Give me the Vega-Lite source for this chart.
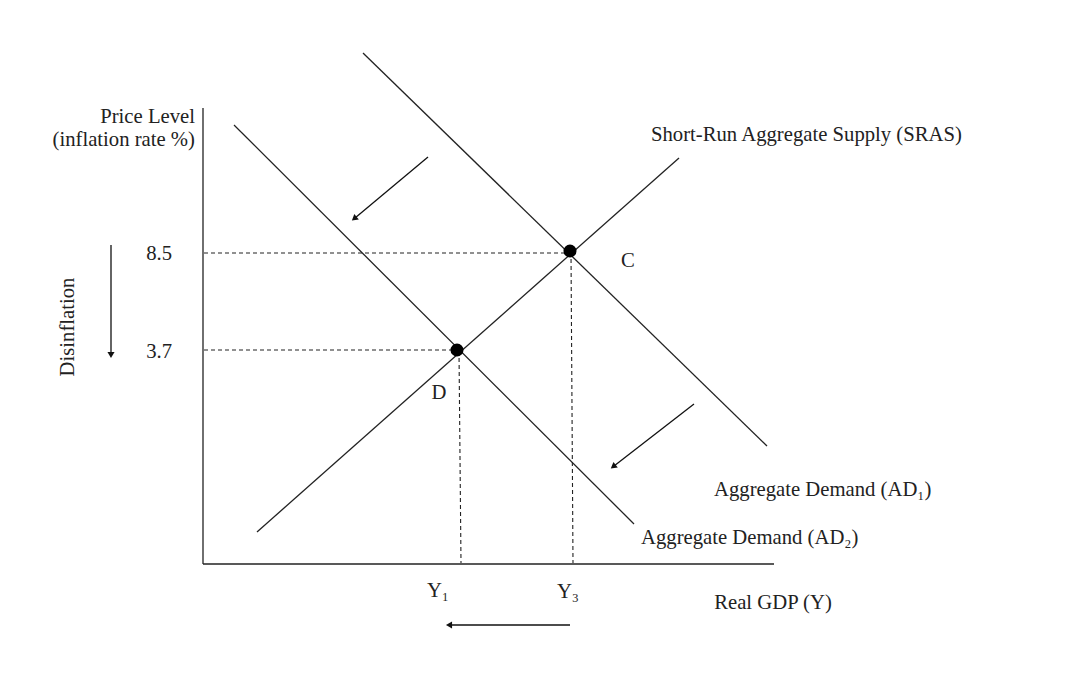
{
  "$schema": "https://vega.github.io/schema/vega-lite/v6.json",
  "width": 1084,
  "height": 674,
  "autosize": {"type": "fit", "contains": "padding"},
  "padding": 0,
  "background": "white",
  "config": {"view": {"stroke": null}},
  "datasets": {
    "solid": [
      {"name": "y-axis", "x": 203, "y": 108, "x2": 203, "y2": 564},
      {"name": "x-axis", "x": 203, "y": 564, "x2": 774, "y2": 564},
      {"name": "AD1", "x": 363, "y": 53, "x2": 767, "y2": 446},
      {"name": "AD2", "x": 234, "y": 125, "x2": 634, "y2": 524},
      {"name": "SRAS", "x": 257, "y": 532, "x2": 679, "y2": 158}
    ],
    "dashed": [
      {"name": "8.5", "x": 204, "y": 253, "x2": 570, "y2": 253},
      {"name": "3.7", "x": 204, "y": 350, "x2": 457, "y2": 350},
      {"name": "Y3", "x": 571, "y": 252, "x2": 573, "y2": 563},
      {"name": "Y1", "x": 459, "y": 351, "x2": 461, "y2": 563}
    ],
    "arrows": [
      {"name": "AD shift 1", "x": 428, "y": 157, "x2": 355, "y2": 218},
      {"name": "AD shift 2", "x": 694, "y": 404, "x2": 614, "y2": 466},
      {"name": "Disinflation", "x": 111, "y": 245, "x2": 111, "y2": 354},
      {"name": "Output fall", "x": 570, "y": 625, "x2": 450, "y2": 625}
    ],
    "points": [
      {"name": "C", "x": 570, "y": 251},
      {"name": "D", "x": 457, "y": 350}
    ],
    "labels": [
      {"text": "Price Level", "x": 195, "y": 117, "anchor": "right", "angle": 0},
      {"text": "(inflation rate %)", "x": 195, "y": 140, "anchor": "right", "angle": 0},
      {"text": "8.5", "x": 172, "y": 254, "anchor": "right", "angle": 0},
      {"text": "3.7", "x": 172, "y": 352, "anchor": "right", "angle": 0},
      {"text": "Disinflation", "x": 68, "y": 327, "anchor": "center", "angle": 270},
      {"text": "D", "x": 439, "y": 393, "anchor": "center", "angle": 0},
      {"text": "C", "x": 628, "y": 261, "anchor": "center", "angle": 0},
      {"text": "Y₁", "x": 438, "y": 591, "anchor": "center", "angle": 0},
      {"text": "Y₃", "x": 568, "y": 592, "anchor": "center", "angle": 0},
      {"text": "Real GDP (Y)", "x": 773, "y": 603, "anchor": "center", "angle": 0},
      {"text": "Short-Run Aggregate Supply (SRAS)", "x": 651, "y": 135, "anchor": "left", "angle": 0},
      {"text": "Aggregate Demand (AD₁)", "x": 714, "y": 490, "anchor": "left", "angle": 0},
      {"text": "Aggregate Demand (AD₂)", "x": 641, "y": 538, "anchor": "left", "angle": 0}
    ]
  },
  "layer": [
    {
      "data": {"name": "solid"},
      "mark": {"type": "rule", "color": "#222", "strokeWidth": 1.3},
      "encoding": {
        "x": {"field": "x", "type": "quantitative", "scale": {"domain": [0, 1084], "nice": false, "zero": false}, "axis": null},
        "y": {"field": "y", "type": "quantitative", "scale": {"domain": [0, 674], "nice": false, "zero": false, "reverse": true}, "axis": null},
        "x2": {"field": "x2"},
        "y2": {"field": "y2"}
      }
    },
    {
      "data": {"name": "dashed"},
      "mark": {"type": "rule", "color": "#222", "strokeWidth": 1.1, "strokeDash": [4, 3]},
      "encoding": {
        "x": {"field": "x", "type": "quantitative"},
        "y": {"field": "y", "type": "quantitative"},
        "x2": {"field": "x2"},
        "y2": {"field": "y2"}
      }
    },
    {
      "data": {"name": "arrows"},
      "mark": {"type": "rule", "color": "#111", "strokeWidth": 1.3},
      "encoding": {
        "x": {"field": "x", "type": "quantitative"},
        "y": {"field": "y", "type": "quantitative"},
        "x2": {"field": "x2"},
        "y2": {"field": "y2"}
      }
    },
    {
      "data": {"name": "arrows"},
      "transform": [
        {"calculate": "atan2(datum.x2 - datum.x, -(datum.y2 - datum.y)) * 180 / PI", "as": "dir"}
      ],
      "mark": {"type": "point", "shape": "triangle", "filled": true, "color": "#111", "size": 50, "opacity": 1},
      "encoding": {
        "x": {"field": "x2", "type": "quantitative"},
        "y": {"field": "y2", "type": "quantitative"},
        "angle": {"field": "dir", "type": "quantitative", "scale": null}
      }
    },
    {
      "data": {"name": "points"},
      "mark": {"type": "circle", "color": "#000", "size": 170, "opacity": 1},
      "encoding": {
        "x": {"field": "x", "type": "quantitative"},
        "y": {"field": "y", "type": "quantitative"}
      }
    },
    {
      "data": {"name": "labels"},
      "transform": [{"filter": "datum.anchor === 'right'"}],
      "mark": {"type": "text", "align": "right", "baseline": "middle", "font": "Liberation Serif", "fontSize": 20.7, "color": "#222"},
      "encoding": {
        "x": {"field": "x", "type": "quantitative"},
        "y": {"field": "y", "type": "quantitative"},
        "text": {"field": "text"}
      }
    },
    {
      "data": {"name": "labels"},
      "transform": [{"filter": "datum.anchor === 'left'"}],
      "mark": {"type": "text", "align": "left", "baseline": "middle", "font": "Liberation Serif", "fontSize": 20.7, "color": "#222"},
      "encoding": {
        "x": {"field": "x", "type": "quantitative"},
        "y": {"field": "y", "type": "quantitative"},
        "text": {"field": "text"}
      }
    },
    {
      "data": {"name": "labels"},
      "transform": [{"filter": "datum.anchor === 'center' && datum.angle === 0"}],
      "mark": {"type": "text", "align": "center", "baseline": "middle", "font": "Liberation Serif", "fontSize": 20.7, "color": "#222"},
      "encoding": {
        "x": {"field": "x", "type": "quantitative"},
        "y": {"field": "y", "type": "quantitative"},
        "text": {"field": "text"}
      }
    },
    {
      "data": {"name": "labels"},
      "transform": [{"filter": "datum.angle === 270"}],
      "mark": {"type": "text", "align": "center", "baseline": "middle", "angle": 270, "font": "Liberation Serif", "fontSize": 20.7, "color": "#222"},
      "encoding": {
        "x": {"field": "x", "type": "quantitative"},
        "y": {"field": "y", "type": "quantitative"},
        "text": {"field": "text"}
      }
    }
  ]
}
